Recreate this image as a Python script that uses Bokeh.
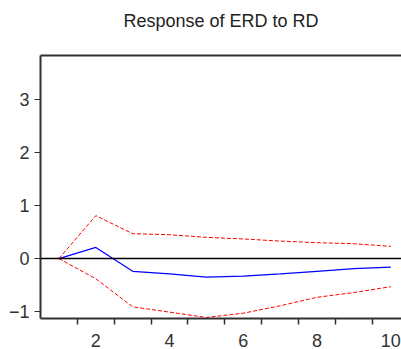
from bokeh.plotting import figure
from bokeh.models import FixedTicker, LinearAxis, Span, Range1d
from bokeh.embed import file_html
from bokeh.resources import INLINE

periods = [1, 2, 3, 4, 5, 6, 7, 8, 9, 10]
response = [0.0, 0.21, -0.24, -0.29, -0.35, -0.33, -0.29, -0.24, -0.19, -0.16]
upper = [0.0, 0.81, 0.47, 0.45, 0.40, 0.37, 0.33, 0.30, 0.28, 0.23]
lower = [0.0, -0.38, -0.91, -1.01, -1.11, -1.03, -0.89, -0.73, -0.64, -0.53]
y_ticks = [-1, 0, 1, 2, 3]
x_labels = [2, 4, 6, 8, 10]
x_minor = [1.5, 2.5, 3.5, 4.5, 5.5, 6.5, 7.5, 8.5, 9.5]
title_text = "Response of ERD to RD"
y_lo, y_hi = -1.13, 3.83

FONT = "Liberation Sans"
AX = "#303030"

p = figure(width=401, height=349, output_backend="svg", toolbar_location=None,
           x_range=Range1d(0.5, 10.29), y_range=Range1d(y_lo, y_hi),
           min_border_left=40, min_border_right=0, min_border_top=55,
           min_border_bottom=31, title=title_text + "\n ")
p.background_fill_color = "white"
p.border_fill_color = "white"
p.outline_line_color = None
p.grid.visible = False

p.title.align = "center"
p.title.vertical_align = "top"
p.title.text_font = FONT
p.title.text_font_size = "18px"
p.title.text_font_style = "normal"
p.title.text_color = "#222222"
p.title.offset = 3
p.title.standoff = 6

# zero line
p.add_layout(Span(location=0, dimension="width", line_color="black", line_width=1.5))

p.line(periods, upper, line_color="red", line_width=1, line_dash="4 2")
p.line(periods, lower, line_color="red", line_width=1, line_dash="4 2")
p.line(periods, response, line_color="blue", line_width=1.2)

xa = p.xaxis[0]
xa.ticker = FixedTicker(ticks=x_labels, minor_ticks=x_minor)
xa.major_tick_line_color = None
xa.minor_tick_line_color = AX
xa.minor_tick_in = 0
xa.minor_tick_out = 6
xa.minor_tick_line_width = 1.5
xa.axis_line_color = AX
xa.axis_line_width = 2
xa.major_label_text_font = FONT
xa.major_label_text_font_size = "18px"
xa.major_label_text_color = "#333333"
xa.major_label_standoff = 9

ya = p.yaxis[0]
ya.ticker = FixedTicker(ticks=y_ticks, minor_ticks=[])
ya.major_tick_line_color = AX
ya.major_tick_in = 0
ya.major_tick_out = 6
ya.major_tick_line_width = 1.2
ya.minor_tick_line_color = None
ya.axis_line_color = AX
ya.axis_line_width = 2
ya.major_label_text_font = FONT
ya.major_label_text_font_size = "18px"
ya.major_label_text_color = "#333333"
ya.major_label_standoff = 5

# top border of the frame
top = LinearAxis(ticker=FixedTicker(ticks=[]), axis_line_color=AX, axis_line_width=2,
                 major_tick_line_color=None, minor_tick_line_color=None,
                 major_tick_out=0, major_tick_in=0, minor_tick_out=0, minor_tick_in=0,
                 major_label_standoff=0, major_label_text_font_size="0px")
p.add_layout(top, "above")

open("out.html", "w").write(file_html(p, INLINE))
